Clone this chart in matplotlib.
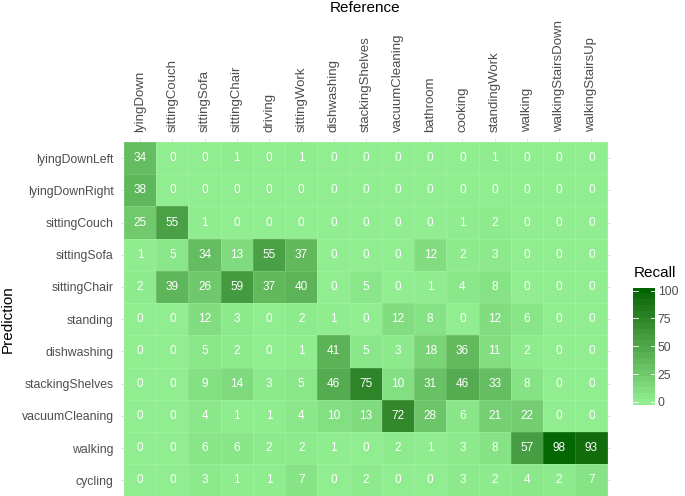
import numpy as np
import matplotlib
matplotlib.use('Agg')
import matplotlib.pyplot as plt
from matplotlib.colors import ListedColormap, to_rgb

plt.rcParams['font.family'] = ['Liberation Sans', 'DejaVu Sans']

predictions = ['lyingDownLeft', 'lyingDownRight', 'sittingCouch', 'sittingSofa',
               'sittingChair', 'standing', 'dishwashing', 'stackingShelves',
               'vacuumCleaning', 'walking', 'cycling']
references = ['lyingDown', 'sittingCouch', 'sittingSofa', 'sittingChair', 'driving',
              'sittingWork', 'dishwashing', 'stackingShelves', 'vacuumCleaning',
              'bathroom', 'cooking', 'standingWork', 'walking',
              'walkingStairsDown', 'walkingStairsUp']

lyingDownLeft   = [34, 0, 0, 1, 0, 1, 0, 0, 0, 0, 0, 1, 0, 0, 0]
lyingDownRight  = [38, 0, 0, 0, 0, 0, 0, 0, 0, 0, 0, 0, 0, 0, 0]
sittingCouch    = [25, 55, 1, 0, 0, 0, 0, 0, 0, 0, 1, 2, 0, 0, 0]
sittingSofa     = [1, 5, 34, 13, 55, 37, 0, 0, 0, 12, 2, 3, 0, 0, 0]
sittingChair    = [2, 39, 26, 59, 37, 40, 0, 5, 0, 1, 4, 8, 0, 0, 0]
standing        = [0, 0, 12, 3, 0, 2, 1, 0, 12, 8, 0, 12, 6, 0, 0]
dishwashing     = [0, 0, 5, 2, 0, 1, 41, 5, 3, 18, 36, 11, 2, 0, 0]
stackingShelves = [0, 0, 9, 14, 3, 5, 46, 75, 10, 31, 46, 33, 8, 0, 0]
vacuumCleaning  = [0, 0, 4, 1, 1, 4, 10, 13, 72, 28, 6, 21, 22, 0, 0]
walking         = [0, 0, 6, 6, 2, 2, 1, 0, 2, 1, 3, 8, 57, 98, 93]
cycling         = [0, 0, 3, 1, 1, 7, 0, 2, 0, 0, 3, 2, 4, 2, 7]

recall = np.array([lyingDownLeft, lyingDownRight, sittingCouch, sittingSofa,
                   sittingChair, standing, dishwashing, stackingShelves,
                   vacuumCleaning, walking, cycling])


# gradient lightgreen -> darkgreen interpolated in Lab (like ggplot)
def to_lab(rgb):
    c = np.array(rgb)
    c = np.where(c <= 0.04045, c / 12.92, ((c + 0.055) / 1.055) ** 2.4)
    M = np.array([[0.4124, 0.3576, 0.1805],
                  [0.2126, 0.7152, 0.0722],
                  [0.0193, 0.1192, 0.9505]])
    xyz = M @ c / np.array([0.95047, 1.0, 1.08883])
    f = np.where(xyz > 0.008856, np.cbrt(xyz), 7.787 * xyz + 16 / 116)
    return np.array([116 * f[1] - 16, 500 * (f[0] - f[1]), 200 * (f[1] - f[2])])


def from_lab(lab):
    fy = (lab[0] + 16) / 116
    fx = fy + lab[1] / 500
    fz = fy - lab[2] / 200
    f = np.array([fx, fy, fz])
    xyz = np.where(f ** 3 > 0.008856, f ** 3, (f - 16 / 116) / 7.787)
    xyz = xyz * np.array([0.95047, 1.0, 1.08883])
    Minv = np.array([[3.2406, -1.5372, -0.4986],
                     [-0.9689, 1.8758, 0.0415],
                     [0.0557, -0.2040, 1.0570]])
    c = Minv @ xyz
    c = np.where(c <= 0.0031308, 12.92 * c, 1.055 * np.clip(c, 0, None) ** (1 / 2.4) - 0.055)
    return np.clip(c, 0, 1)


lo = to_lab(to_rgb('lightgreen'))
hi = to_lab(to_rgb('darkgreen'))
cmap = ListedColormap([from_lab(lo + (hi - lo) * t) for t in np.linspace(0, 1, 256)])

fig = plt.figure(figsize=(6.85, 4.96), dpi=100)
W, H = 685, 496
ax = fig.add_axes([120.8 / W, 1 - 499.6 / H, (610.7 - 120.8) / W, (499.6 - 138.8) / H])

nr, nc = recall.shape
for i in range(nr):
    ax.axhline(i, color='#DDDDDD', lw=0.6, zorder=0)
for j in range(nc):
    ax.axvline(j, color='#DDDDDD', lw=0.6, zorder=0)

ax.pcolormesh(np.arange(nc + 1) - 0.5, np.arange(nr + 1) - 0.5, recall,
              cmap=cmap, vmin=0, vmax=100, edgecolors=(1, 1, 1, 0.12),
              linewidth=0.4, zorder=1)
for i in range(nr):
    for j in range(nc):
        ax.text(j, i, str(recall[i, j]), ha='center', va='center',
                color='white', fontsize=8.5, zorder=2)

ax.set_xlim(-0.6, nc - 0.4)
ax.set_ylim(nr - 0.4, -0.6)
ax.xaxis.tick_top()
ax.xaxis.set_label_position('top')
ax.set_xticks(range(nc))
ax.set_xticklabels(references, rotation=90, fontsize=9.5, color='#4D4D4D')
ax.set_yticks(range(nr))
ax.set_yticklabels(predictions, fontsize=8.8, color='#4D4D4D')
ax.tick_params(length=0, pad=5)
for s in ax.spines.values():
    s.set_visible(False)

fig.text(365.5 / W, 1 - 8 / H, 'Reference', ha='center', va='center', fontsize=11)
fig.text(8 / W, 1 - 319 / H, 'Prediction', ha='center', va='center',
         rotation=90, fontsize=11)

# colour bar, 20 bins like ggplot
cax = fig.add_axes([633.3 / W, 1 - 405.7 / H, 21.7 / W, 119 / H])
bins = np.linspace(0, 100, 20)
step = bins[1] - bins[0]
for v in bins:
    cax.bar(0.5, step, bottom=v - step / 2, width=1, color=cmap(v / 100), linewidth=0)
cax.set_xlim(0, 1)
cax.set_ylim(-step / 2 - 0.8, 100 + step / 2 + 0.8)
ticks = [0, 25, 50, 75, 100]
for t in ticks:
    cax.plot([0, 0.2], [t, t], color='white', lw=0.6)
    cax.plot([0.8, 1], [t, t], color='white', lw=0.6)
cax.set_xticks([])
cax.yaxis.tick_right()
cax.set_yticks(ticks)
cax.set_yticklabels([str(t) for t in ticks], fontsize=8.8, color='#4D4D4D')
cax.tick_params(axis='y', length=0, pad=2)
for s in cax.spines.values():
    s.set_visible(False)
fig.text(634 / W, 1 - 273 / H, 'Recall', ha='left', va='center', fontsize=11)

fig.savefig('out.png', dpi=100)
